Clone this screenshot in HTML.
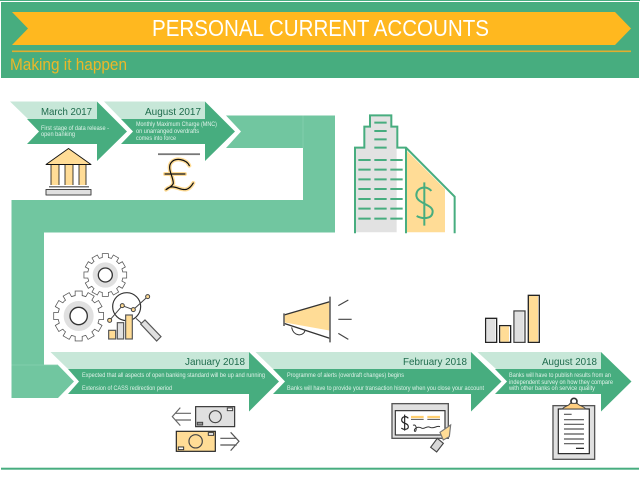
<!DOCTYPE html>
<html><head><meta charset="utf-8"><title>Personal Current Accounts</title>
<style>
html,body{margin:0;padding:0;background:#fff;width:640px;height:479px;overflow:hidden}
svg{display:block}
text{font-family:"Liberation Sans",sans-serif}
.d{font-size:10.5px;fill:#1e6b4c}
.s{font-size:6.2px;fill:#dff2e9}
</style></head><body>
<svg width="640" height="479" viewBox="0 0 640 479" xmlns="http://www.w3.org/2000/svg">
<defs>
<g id="gs">
<circle r="52"/>
<rect x="-8" y="-63" width="16" height="126"/>
<rect x="-8" y="-63" width="16" height="126" transform="rotate(30)"/>
<rect x="-8" y="-63" width="16" height="126" transform="rotate(60)"/>
<rect x="-8" y="-63" width="16" height="126" transform="rotate(90)"/>
<rect x="-8" y="-63" width="16" height="126" transform="rotate(120)"/>
<rect x="-8" y="-63" width="16" height="126" transform="rotate(150)"/>
</g>
</defs>

<!-- header -->
<rect x="1" y="2" width="638" height="76" fill="#47ad7f"/>
<rect x="0" y="0" width="640" height="1" fill="#47ad7f"/>
<polygon points="12,12 615,12 631,28.5 615,45 12,45 28,28.5" fill="#ffb81f"/>
<rect x="12" y="50.5" width="619" height="1.6" fill="#e3ad2e"/>
<text x="152" y="36" font-size="23" fill="#fff" textLength="337" lengthAdjust="spacingAndGlyphs">PERSONAL CURRENT ACCOUNTS</text>
<text x="10" y="70" font-size="17" fill="#ffb81f" fill-opacity="0.9" textLength="117" lengthAdjust="spacingAndGlyphs">Making it happen</text>

<!-- band -->
<path d="M226,115.5H335V232.5H44V365H58L74,381.5L58,398H11.5V200H303V148H226L241,131.5Z" fill="#71c6a0"/>
<path d="M303,115.5V148M11.5,365H58" stroke="#86d0af" stroke-width="0.8" fill="none"/>

<!-- top arrows -->
<polygon points="10,101.5 97,101.5 97,119 28,119" fill="#c7e7d8"/>
<polygon points="27,119 97,119 97,101.5 127,131.5 97,161 97,144 27,144 39,131.5" fill="#47ad7f"/>
<polygon points="104,101.5 205,101.5 205,119 121,119" fill="#c7e7d8"/>
<polygon points="121,119 205,119 205,101.5 235,131.5 205,161 205,144 121,144 133,131.5" fill="#47ad7f"/>
<text class="d" x="41" y="115" textLength="51" lengthAdjust="spacingAndGlyphs">March 2017</text>
<text class="d" x="145" y="115" textLength="56" lengthAdjust="spacingAndGlyphs">August 2017</text>
<text class="s" x="41" y="130" textLength="68" lengthAdjust="spacingAndGlyphs">First stage of data release -</text>
<text class="s" x="41" y="136" textLength="34" lengthAdjust="spacingAndGlyphs">open banking</text>
<text class="s" x="136" y="126" textLength="81" lengthAdjust="spacingAndGlyphs">Monthly Maximum Charge (MNC)</text>
<text class="s" x="136" y="133" textLength="63" lengthAdjust="spacingAndGlyphs">on unarranged overdrafts</text>
<text class="s" x="136" y="140" textLength="40" lengthAdjust="spacingAndGlyphs">comes into force</text>

<!-- bottom arrows -->
<polygon points="50.5,352 249,352 249,369 68,369" fill="#c7e7d8"/>
<polygon points="68,369 249,369 249,352 279,381.5 249,411.5 249,394 68,394 79,381.5" fill="#47ad7f"/>
<polygon points="255.5,352 471,352 471,369 273,369" fill="#c7e7d8"/>
<polygon points="273,369 471,369 471,352 501.5,381.5 471,411.5 471,394 273,394 285,381.5" fill="#47ad7f"/>
<polygon points="477.5,352 601,352 601,369 496,369" fill="#c7e7d8"/>
<polygon points="495,369 601,369 601,352 631.5,381.5 601,411.5 601,394 495,394 507,381.5" fill="#47ad7f"/>
<text class="d" x="185" y="365" textLength="60" lengthAdjust="spacingAndGlyphs">January 2018</text>
<text class="d" x="403" y="365" textLength="64" lengthAdjust="spacingAndGlyphs">February 2018</text>
<text class="d" x="542" y="365" textLength="55" lengthAdjust="spacingAndGlyphs">August 2018</text>
<text class="s" x="82" y="377" textLength="183" lengthAdjust="spacingAndGlyphs">Expected that all aspects of open banking standard will be up and running</text>
<text class="s" x="82" y="390" textLength="90" lengthAdjust="spacingAndGlyphs">Extension of CASS redirection period</text>
<text class="s" x="287" y="377" textLength="117" lengthAdjust="spacingAndGlyphs">Programme of alerts (overdraft changes) begins</text>
<text class="s" x="287" y="390" textLength="197" lengthAdjust="spacingAndGlyphs">Banks will have to provide your transaction history when you close your account</text>
<text class="s" x="509" y="377" textLength="102" lengthAdjust="spacingAndGlyphs">Banks will have to publish results from an</text>
<text class="s" x="509" y="384" textLength="104" lengthAdjust="spacingAndGlyphs">independent survey on how they compare</text>
<text class="s" x="509" y="390" textLength="86" lengthAdjust="spacingAndGlyphs">with other banks on service quality</text>

<rect x="1" y="467.7" width="638" height="2" fill="#47ad7f"/>

<!-- bank -->
<g stroke-linejoin="round">
<rect x="51" y="165" width="35" height="20" fill="#ffdc96"/>
<rect x="59" y="165" width="6" height="20" fill="#fff"/>
<rect x="73" y="165" width="6" height="20" fill="#fff"/>
<path d="M59,165V185M65,165V185M73,165V185M79,165V185M51,165V185M86,165V185" stroke="#111" stroke-width="0.8" fill="none"/>
<polygon points="68.5,148.5 46,164.5 91,164.5" fill="#ffdc96" stroke="#111" stroke-width="0.9"/>
<rect x="49" y="186" width="40" height="1.5" fill="#777"/>
<rect x="46" y="189.5" width="45" height="5.5" fill="#e0e0e0" stroke="#444" stroke-width="1"/>
</g>

<!-- pound -->
<rect x="158" y="153.3" width="42" height="1.8" fill="#777"/>
<g transform="scale(0.3333)" fill="none" stroke-linecap="round" stroke-linejoin="round">
<g stroke="#ffdc96" stroke-width="12">
<path d="M568,497C560,478 525,470 512,490C502,508 520,530 520,550C518,558 505,565 498,569C520,548 540,574 560,568C570,565 576,556 580,549M495,522H555"/>
</g>
<g stroke="#111" stroke-width="3.6">
<path d="M568,497C560,478 525,470 512,490C502,508 520,530 520,550C518,558 505,565 498,569C520,548 540,574 560,568C570,565 576,556 580,549M495,522H555"/>
</g>
</g>

<!-- building -->
<g transform="translate(320,0) scale(0.3333)">
<path d="M108,697V443H133V380H150V346H214V380H232V443H230V697Z" fill="#e2e2e2"/>
<polygon points="258,450 375,567 375,697 258,697" fill="#ffdc96"/>
<path d="M105,700V443H133V380H150V346H214V380H232V443H258L404,590V700M258,443V700" fill="none" stroke="#47ad7f" stroke-width="6"/>
<path d="M163,368H200M163,393H200M163,418H200M163,443H200
M115,480H152M163,480H200M211,480H248
M115,509H152M163,509H200M211,509H248
M115,538H152M163,538H200M211,538H248
M115,567H152M163,567H200M211,567H248
M115,597H152M163,597H200M211,597H248
M115,626H152M163,626H200M211,626H248
M115,656H152M163,656H200M211,656H248" stroke="#47ad7f" stroke-width="6" fill="none"/>
<path d="M313,547V677M334,573C322,556 290,560 289,585C289,612 340,612 338,636C336,660 305,656 290,648" fill="none" stroke="#47ad7f" stroke-width="6"/>
</g>

<!-- gears + analysis -->
<g transform="translate(0,240) scale(0.3333)">
<g transform="translate(316,105)">
<use href="#gs" fill="#555" stroke="#555" stroke-width="4.5"/>
<use href="#gs" fill="#fff"/>
<circle r="38" fill="#e0e0e0"/><circle r="21" fill="#fff" stroke="#333" stroke-width="4"/>
</g>
<g transform="translate(236,228)">
<g transform="scale(1.17)">
<use href="#gs" fill="#555" stroke="#555" stroke-width="4"/>
<use href="#gs" fill="#fff"/>
</g>
<circle r="45" fill="#e0e0e0"/><circle r="26" fill="#fff" stroke="#333" stroke-width="4"/>
</g>
<circle cx="380" cy="200" r="42" fill="#fff" stroke="#333" stroke-width="3.5"/>
<rect x="326" y="271" width="21" height="26" fill="#ffdc96" stroke="#555" stroke-width="3.5"/>
<rect x="352" y="248" width="19" height="49" fill="#e0e0e0" stroke="#555" stroke-width="3.5"/>
<rect x="377" y="225" width="20" height="72" fill="#ffdc96" stroke="#555" stroke-width="3.5"/>
<path d="M329,241L367,197L400,209L443,170" fill="none" stroke="#444" stroke-width="3"/>
<g fill="#ffdc96" stroke="#444" stroke-width="3">
<circle cx="329" cy="241" r="6"/><circle cx="367" cy="197" r="6"/><circle cx="400" cy="209" r="6"/><circle cx="443" cy="170" r="6"/>
</g>
<path d="M408,235L425,250" stroke="#444" stroke-width="3"/>
<polygon points="422,252 435,240 483,290 470,303" fill="#e0e0e0" stroke="#555" stroke-width="3.5"/>
</g>

<!-- megaphone -->
<g transform="translate(275,290) scale(0.3333)" fill="none">
<polygon points="27,75 165,35 165,122 27,97" fill="#ffdc96"/>
<path d="M50,112C55,140 85,140 90,122" stroke="#333" stroke-width="3"/>
<path d="M27,75L165,35M27,100L165,145" stroke="#333" stroke-width="4"/>
<path d="M27,70V108M165,20V157" stroke="#666" stroke-width="5"/>
<path d="M190,47L220,30M190,88H230M190,130L220,148" stroke="#444" stroke-width="3.5"/>
</g>

<!-- money -->
<g transform="translate(0,240) scale(0.3333)" fill="none">
<rect x="587" y="500" width="117" height="60" fill="#e0e0e0" stroke="#333" stroke-width="3.5"/>
<circle cx="646" cy="530" r="18" stroke="#444" stroke-width="3.5"/>
<rect x="682" y="504" width="16" height="8" fill="#fff" stroke="#444" stroke-width="3"/>
<rect x="592" y="547" width="16" height="8" fill="#999" stroke="#444" stroke-width="3"/>
<path d="M541,503L517,530L541,557M525,520H573M525,540H573" stroke="#666" stroke-width="3.5"/>
<rect x="529" y="574" width="117" height="60" fill="#ffdc96" stroke="#222" stroke-width="3.5"/>
<circle cx="587" cy="604" r="20" stroke="#444" stroke-width="3.5"/>
<rect x="625" y="578" width="16" height="8" fill="#fff" stroke="#333" stroke-width="3"/>
<rect x="535" y="621" width="16" height="8" fill="#fff" stroke="#333" stroke-width="3"/>
<path d="M692,577L717,604L692,632M661,595H710M661,615H710" stroke="#555" stroke-width="3.5"/>
</g>

<!-- cheque -->
<g transform="translate(320,240) scale(0.3333)" fill="none">
<rect x="216" y="491" width="169" height="104" fill="#e0e0e0" stroke="#555" stroke-width="4"/>
<rect x="226" y="512" width="149" height="73" fill="#fff" stroke="#333" stroke-width="3.5"/>
<path d="M254,524V572M265,535C258,526 245,530 245,540C245,552 265,548 265,560C265,570 250,570 244,564" stroke="#222" stroke-width="3.5"/>
<path d="M273,531H311M322,531H360" stroke="#ffcf70" stroke-width="7"/>
<path d="M273,538H311M322,538H360" stroke="#555" stroke-width="3"/>
<path d="M279,556C292,550 290,578 284,574C280,566 294,558 304,564C312,570 320,556 330,562C340,568 350,556 360,560" stroke="#333" stroke-width="3"/>
<polygon points="360,577 392,555 388,590 370,600" fill="#ffdc96" stroke="#777" stroke-width="3.5"/>
<polygon points="332,622 352,595 370,610 350,636" fill="#d8d8d8" stroke="#444" stroke-width="3.5"/>
</g>

<!-- clipboard -->
<g transform="translate(320,240) scale(0.3333)" fill="none">
<rect x="699" y="497" width="125" height="161" fill="#e0e0e0" stroke="#555" stroke-width="4"/>
<rect x="715" y="507" width="93" height="134" fill="#fff" stroke="#222" stroke-width="3.5"/>
<circle cx="762" cy="484" r="9" fill="#fff" stroke="#333" stroke-width="5"/>
<path d="M727,507C735,497 748,498 750,490H772C776,498 790,497 797,507Z" fill="#ffcf80" stroke="#444" stroke-width="3"/>
<path d="M732,523H755M732,539H792M732,553H792M732,567H792M732,582H792M732,597H792M732,611H792" stroke="#555" stroke-width="3.5"/>
<path d="M768,625H792" stroke="#111" stroke-width="3.5"/>
</g>

<!-- bars -->
<g transform="translate(320,240) scale(0.3333)">
<rect x="497" y="235" width="33" height="72" fill="#fff" stroke="#222" stroke-width="4"/>
<rect x="499" y="237" width="27" height="68" fill="#e0e0e0"/>
<rect x="539" y="257" width="33" height="50" fill="#fff" stroke="#222" stroke-width="4"/>
<rect x="541" y="259" width="26" height="46" fill="#ffdc96"/>
<rect x="582" y="213" width="33" height="94" fill="#fff" stroke="#444" stroke-width="4"/>
<rect x="584" y="215" width="27" height="90" fill="#e0e0e0"/>
<rect x="625" y="166" width="33" height="141" fill="#fff" stroke="#222" stroke-width="4"/>
<rect x="627" y="168" width="27" height="137" fill="#ffdc96"/>
</g>
</svg>
</body></html>
